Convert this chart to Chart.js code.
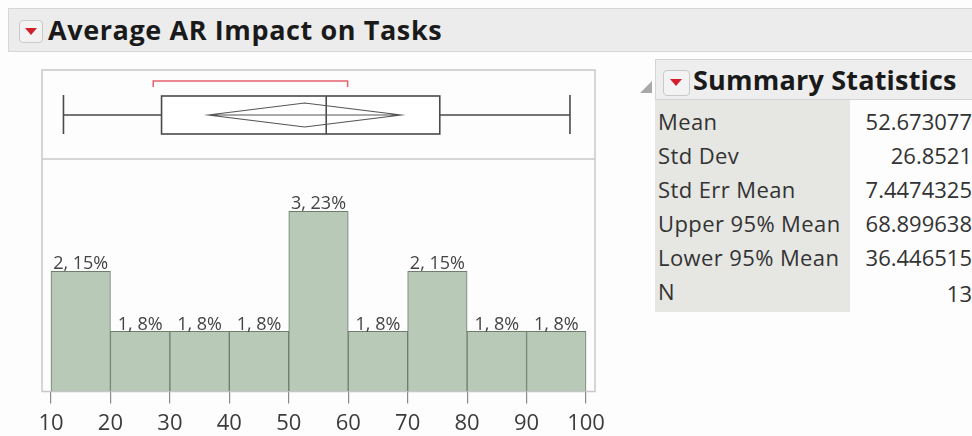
<!DOCTYPE html>
<html>
<head>
<meta charset="utf-8">
<title>Average AR Impact on Tasks</title>
<script src="https://cdn.jsdelivr.net/npm/chart.js@4.4.1/dist/chart.umd.min.js"></script>
<style>
  body { margin: 0; width: 972px; height: 436px; overflow: hidden; background: #fdfdfd;
         font-family: "Open Sans", "Noto Sans", sans-serif; color: #222; position: relative; }
  .menu { position: absolute; width: 24px; height: 23px; box-sizing: border-box;
          background: #f3f3f3; border: 1px solid #c9c9c9; border-radius: 4px; }
  .menu::after { content: ""; position: absolute; left: 5px; top: 7px; width: 0; height: 0;
                 border-left: 6px solid transparent; border-right: 6px solid transparent;
                 border-top: 7px solid #d2202c; }
  #head { position: absolute; left: 8px; top: 8px; width: 980px; height: 44px; box-sizing: border-box;
          background: #ececec; border: 1px solid #d6d6d6; }
  #head .menu { left: 10px; top: 11px; }
  #head span { position: absolute; left: 39px; top: 0; line-height: 42px; font-weight: bold; font-size: 27px;
               color: #1a1a1a; letter-spacing: 0.6px; }
  #dist { position: absolute; left: 0; top: 56px; }
  #fold { position: absolute; left: 640px; top: 81px; width: 0; height: 0;
          border-left: 12px solid transparent; border-bottom: 12px solid #a8a8a8; }
  #statHead { position: absolute; left: 655px; top: 59px; width: 340px; height: 41px; box-sizing: border-box;
              background: #eeeeee; border: 1px solid #d4d4d4; }
  #statHead .menu { left: 7px; top: 10px; width: 27px; height: 26px; }
  #statHead .menu::after { left: 6px; top: 8px; }
  #statHead span { position: absolute; left: 37px; top: 0; line-height: 39px; font-weight: bold; font-size: 27px;
                   color: #1a1a1a; letter-spacing: 0.2px; }
  #stats { position: absolute; left: 655px; top: 100px; border-collapse: collapse; font-size: 22px; color: #333; }
  #stats td { height: 34px; padding: 0; line-height: 34px; }
  #stats td.name { background: #e6e6e3; width: 192px; padding-left: 3px; white-space: nowrap; letter-spacing: 0.4px; }
  #stats td.val { width: 122px; text-align: right; }
  #stats tr:first-child td { padding-top: 4px; }
  #stats tr:last-child td.name { padding-bottom: 4px; }
</style>
</head>
<body>
<div id="head"><div class="menu"></div><span>Average AR Impact on Tasks</span></div>
<canvas id="dist" width="620" height="380"></canvas>
<div id="fold"></div>
<div id="statHead"><div class="menu"></div><span>Summary Statistics</span></div>
<table id="stats"></table>
<script>
// histogram bins (left edges) and counts
const binStarts = [10, 20, 30, 40, 50, 60, 70, 80, 90];
const binCounts = [2, 1, 1, 1, 3, 1, 2, 1, 1];
const axisTicks = [10, 20, 30, 40, 50, 60, 70, 80, 90, 100];

// outlier box plot: min, q1, median, q3, max
const boxFive = [12.1, 28.6, 56.3, 75.4, 97.3];
// mean diamond: lower 95%, mean, upper 95%
const meanDiamond = [36.446515, 52.673077, 68.899638];
// shortest half bracket
const shortestHalf = [27.2, 59.9];

const statNames = ['Mean', 'Std Dev', 'Std Err Mean', 'Upper 95% Mean', 'Lower 95% Mean', 'N'];
const statValues = ['52.673077', '26.8521', '7.4474325', '68.899638', '36.446515', '13'];

const total = binCounts.reduce((a, b) => a + b, 0);

// summary table
const table = document.getElementById('stats');
statNames.forEach((name, i) => {
    const tr = document.createElement('tr');
    tr.innerHTML = '<td class="name">' + name + '</td><td class="val">' + statValues[i] + '</td>';
    table.appendChild(tr);
});

const boxPlot = {
    id: 'boxPlot',
    beforeDatasetsDraw(chart) {
        const { ctx, chartArea: a, scales: { x } } = chart;
        const top = 14;
        ctx.save();
        // frame + separator
        ctx.strokeStyle = '#c8c8c8';
        ctx.lineWidth = 1.5;
        ctx.strokeRect(a.left, top, a.right - a.left, a.bottom - top);
        ctx.beginPath();
        ctx.moveTo(a.left, a.top);
        ctx.lineTo(a.right, a.top);
        ctx.stroke();

        const mid = 59;
        const p = boxFive.map(v => x.getPixelForValue(v));
        ctx.strokeStyle = '#4a4a4a';
        ctx.lineWidth = 1.6;
        ctx.beginPath();
        // whiskers
        ctx.moveTo(p[0], mid); ctx.lineTo(p[1], mid);
        ctx.moveTo(p[3], mid); ctx.lineTo(p[4], mid);
        ctx.moveTo(p[0], 39); ctx.lineTo(p[0], 78);
        ctx.moveTo(p[4], 39); ctx.lineTo(p[4], 78);
        ctx.stroke();
        ctx.fillStyle = '#ffffff';
        ctx.fillRect(p[1], 40, p[3] - p[1], 38);
        ctx.strokeRect(p[1], 40, p[3] - p[1], 38);
        ctx.beginPath();
        ctx.moveTo(p[2], 40); ctx.lineTo(p[2], 78);
        ctx.stroke();

        // mean diamond
        const d = meanDiamond.map(v => x.getPixelForValue(v));
        ctx.strokeStyle = '#555555';
        ctx.lineWidth = 1.1;
        ctx.beginPath();
        ctx.moveTo(d[0], mid);
        ctx.lineTo(d[1], mid - 12);
        ctx.lineTo(d[2], mid);
        ctx.lineTo(d[1], mid + 12);
        ctx.closePath();
        ctx.moveTo(d[0], mid); ctx.lineTo(d[2], mid);
        ctx.stroke();

        // shortest half
        const s = shortestHalf.map(v => x.getPixelForValue(v));
        ctx.strokeStyle = '#e4606e';
        ctx.lineWidth = 1.5;
        ctx.beginPath();
        ctx.moveTo(s[0], 31); ctx.lineTo(s[0], 25); ctx.lineTo(s[1], 25); ctx.lineTo(s[1], 31);
        ctx.stroke();
        ctx.restore();
    },
    afterDatasetsDraw(chart) {
        const { ctx } = chart;
        ctx.save();
        ctx.font = '18px "Open Sans", sans-serif';
        ctx.fillStyle = '#444';
        ctx.textAlign = 'center';
        ctx.textBaseline = 'bottom';
        chart.getDatasetMeta(0).data.forEach((bar, i) => {
            const c = binCounts[i];
            ctx.fillText(c + ', ' + Math.round(c / total * 100) + '%', bar.x, bar.y + 2);
        });
        ctx.restore();
    }
};

const distCtx = document.getElementById('dist').getContext('2d');
const distChart = new Chart(distCtx, {
    type: 'bar',
    data: {
        datasets: [{
            data: binStarts.map((s, i) => ({ x: s + 5, y: binCounts[i] })),
            backgroundColor: 'rgb(185, 201, 184)',
            borderColor: '#6e7d6e',
            borderWidth: 1,
            barPercentage: 1,
            categoryPercentage: 1
        }]
    },
    options: {
        responsive: false,
        animation: false,
        devicePixelRatio: 1,
        layout: { padding: { left: 42, right: 25, top: 103, bottom: 0 } },
        plugins: { legend: { display: false }, tooltip: { enabled: false } },
        scales: {
            x: {
                type: 'linear',
                min: 8.49,
                max: 101.51,
                offset: false,
                afterBuildTicks: (scale) => { scale.ticks = axisTicks.map(v => ({ value: v })); },
                afterFit: (scale) => { scale.height = 44.5; },
                border: { display: false },
                grid: { offset: false, drawOnChartArea: false, drawTicks: true, tickLength: 12, color: '#8a8a8a', lineWidth: 1.2 },
                ticks: { padding: 7, color: '#3c3c3c', font: { family: '"Open Sans", sans-serif', size: 22 } }
            },
            y: { display: false, min: 0, max: 3.87 }
        }
    },
    plugins: [boxPlot]
});
</script>
</body>
</html>
